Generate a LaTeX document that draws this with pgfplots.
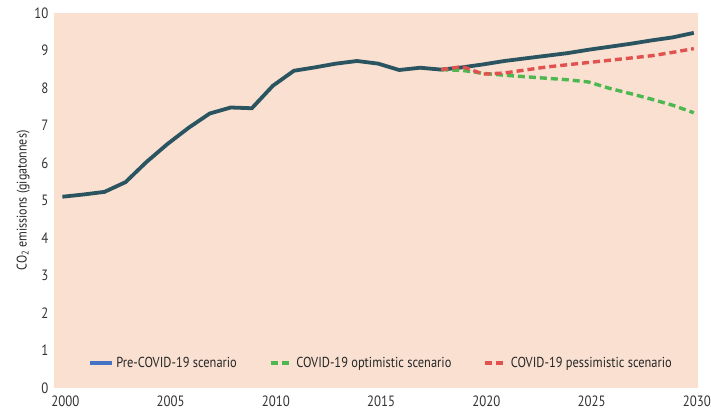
\documentclass[border=0pt]{standalone}
\usepackage{pgfplots}
\pgfplotsset{compat=1.18}
\usepackage{fontspec}
\setmainfont{PT Sans}[FakeStretch=0.86]
\definecolor{bgc}{HTML}{F9E0D1}
\definecolor{mainc}{HTML}{2A5560}
\definecolor{greenc}{HTML}{4CB84F}
\definecolor{redc}{HTML}{E0524F}
\definecolor{bluec}{HTML}{4472C4}
\begin{document}
\begin{tikzpicture}
\useasboundingbox (-54bp,-27bp) rectangle (657bp,388bp);
\begin{axis}[
  scale only axis,
  width=644bp, height=375bp,
  xmin=1999.6, xmax=2030.2,
  ymin=0, ymax=10,
  xtick={2000,2005,...,2030},
  ytick={0,1,...,10},
  /pgf/number format/assume math mode=true,
  /pgf/number format/1000 sep={},
  axis line style={draw=none},
  tick style={draw=none},
  axis background/.style={fill=bgc},
  ticklabel style={font=\fontsize{15}{17}\selectfont, text=black!80},
  xticklabel style={yshift=-4bp, xshift=3bp},
  yticklabel style={xshift=-2bp},
  ylabel={CO\textsubscript{2} emissions (gigatonnes)},
  ylabel style={font=\fontsize{14}{16}\selectfont, text=black!85, yshift=-2bp},
  legend columns=3,
  legend style={draw=none, fill=none, at={(0.508,0.067)}, anchor=center,
    font=\fontsize{14.5}{16}\selectfont, text=black!85,
    /tikz/every even column/.append style={column sep=30bp}},
  legend image code/.code={\draw[#1] (0bp,0bp) -- (22bp,0bp);},
]
\addplot[color=mainc, line width=3.8bp, forget plot] coordinates {
(2000,5.10) (2001,5.16) (2002,5.23) (2003,5.49) (2004,6.03) (2005,6.51)
(2006,6.94) (2007,7.32) (2008,7.48) (2009,7.46) (2010,8.06) (2011,8.46)
(2012,8.55) (2013,8.65) (2014,8.72) (2015,8.65) (2016,8.48) (2017,8.54)
(2018,8.49) (2019,8.55) (2020,8.63) (2021,8.72) (2022,8.79) (2023,8.86)
(2024,8.93) (2025,9.02) (2026,9.10) (2027,9.18) (2028,9.27) (2029,9.35)
(2030,9.47)};
\addlegendimage{color=bluec, line width=3.8bp}
\addlegendentry{Pre-COVID-19 scenario}
\addplot[color=greenc, line width=3.4bp, dash pattern=on 7bp off 4bp] coordinates {
(2018,8.49) (2019,8.47) (2020,8.39) (2021,8.34) (2022,8.30) (2023,8.26)
(2024,8.22) (2025,8.16) (2026,7.99) (2027,7.85) (2028,7.70) (2029,7.54)
(2030,7.34)};
\addlegendentry{COVID-19 optimistic scenario}
\addplot[color=redc, line width=3.4bp, dash pattern=on 7bp off 4bp] coordinates {
(2018,8.49) (2019,8.57) (2020,8.37) (2021,8.40) (2022,8.48) (2023,8.56)
(2024,8.62) (2025,8.68) (2026,8.74) (2027,8.80) (2028,8.86) (2029,8.95)
(2030,9.05)};
\addlegendentry{COVID-19 pessimistic scenario}
\end{axis}
\end{tikzpicture}
\end{document}
